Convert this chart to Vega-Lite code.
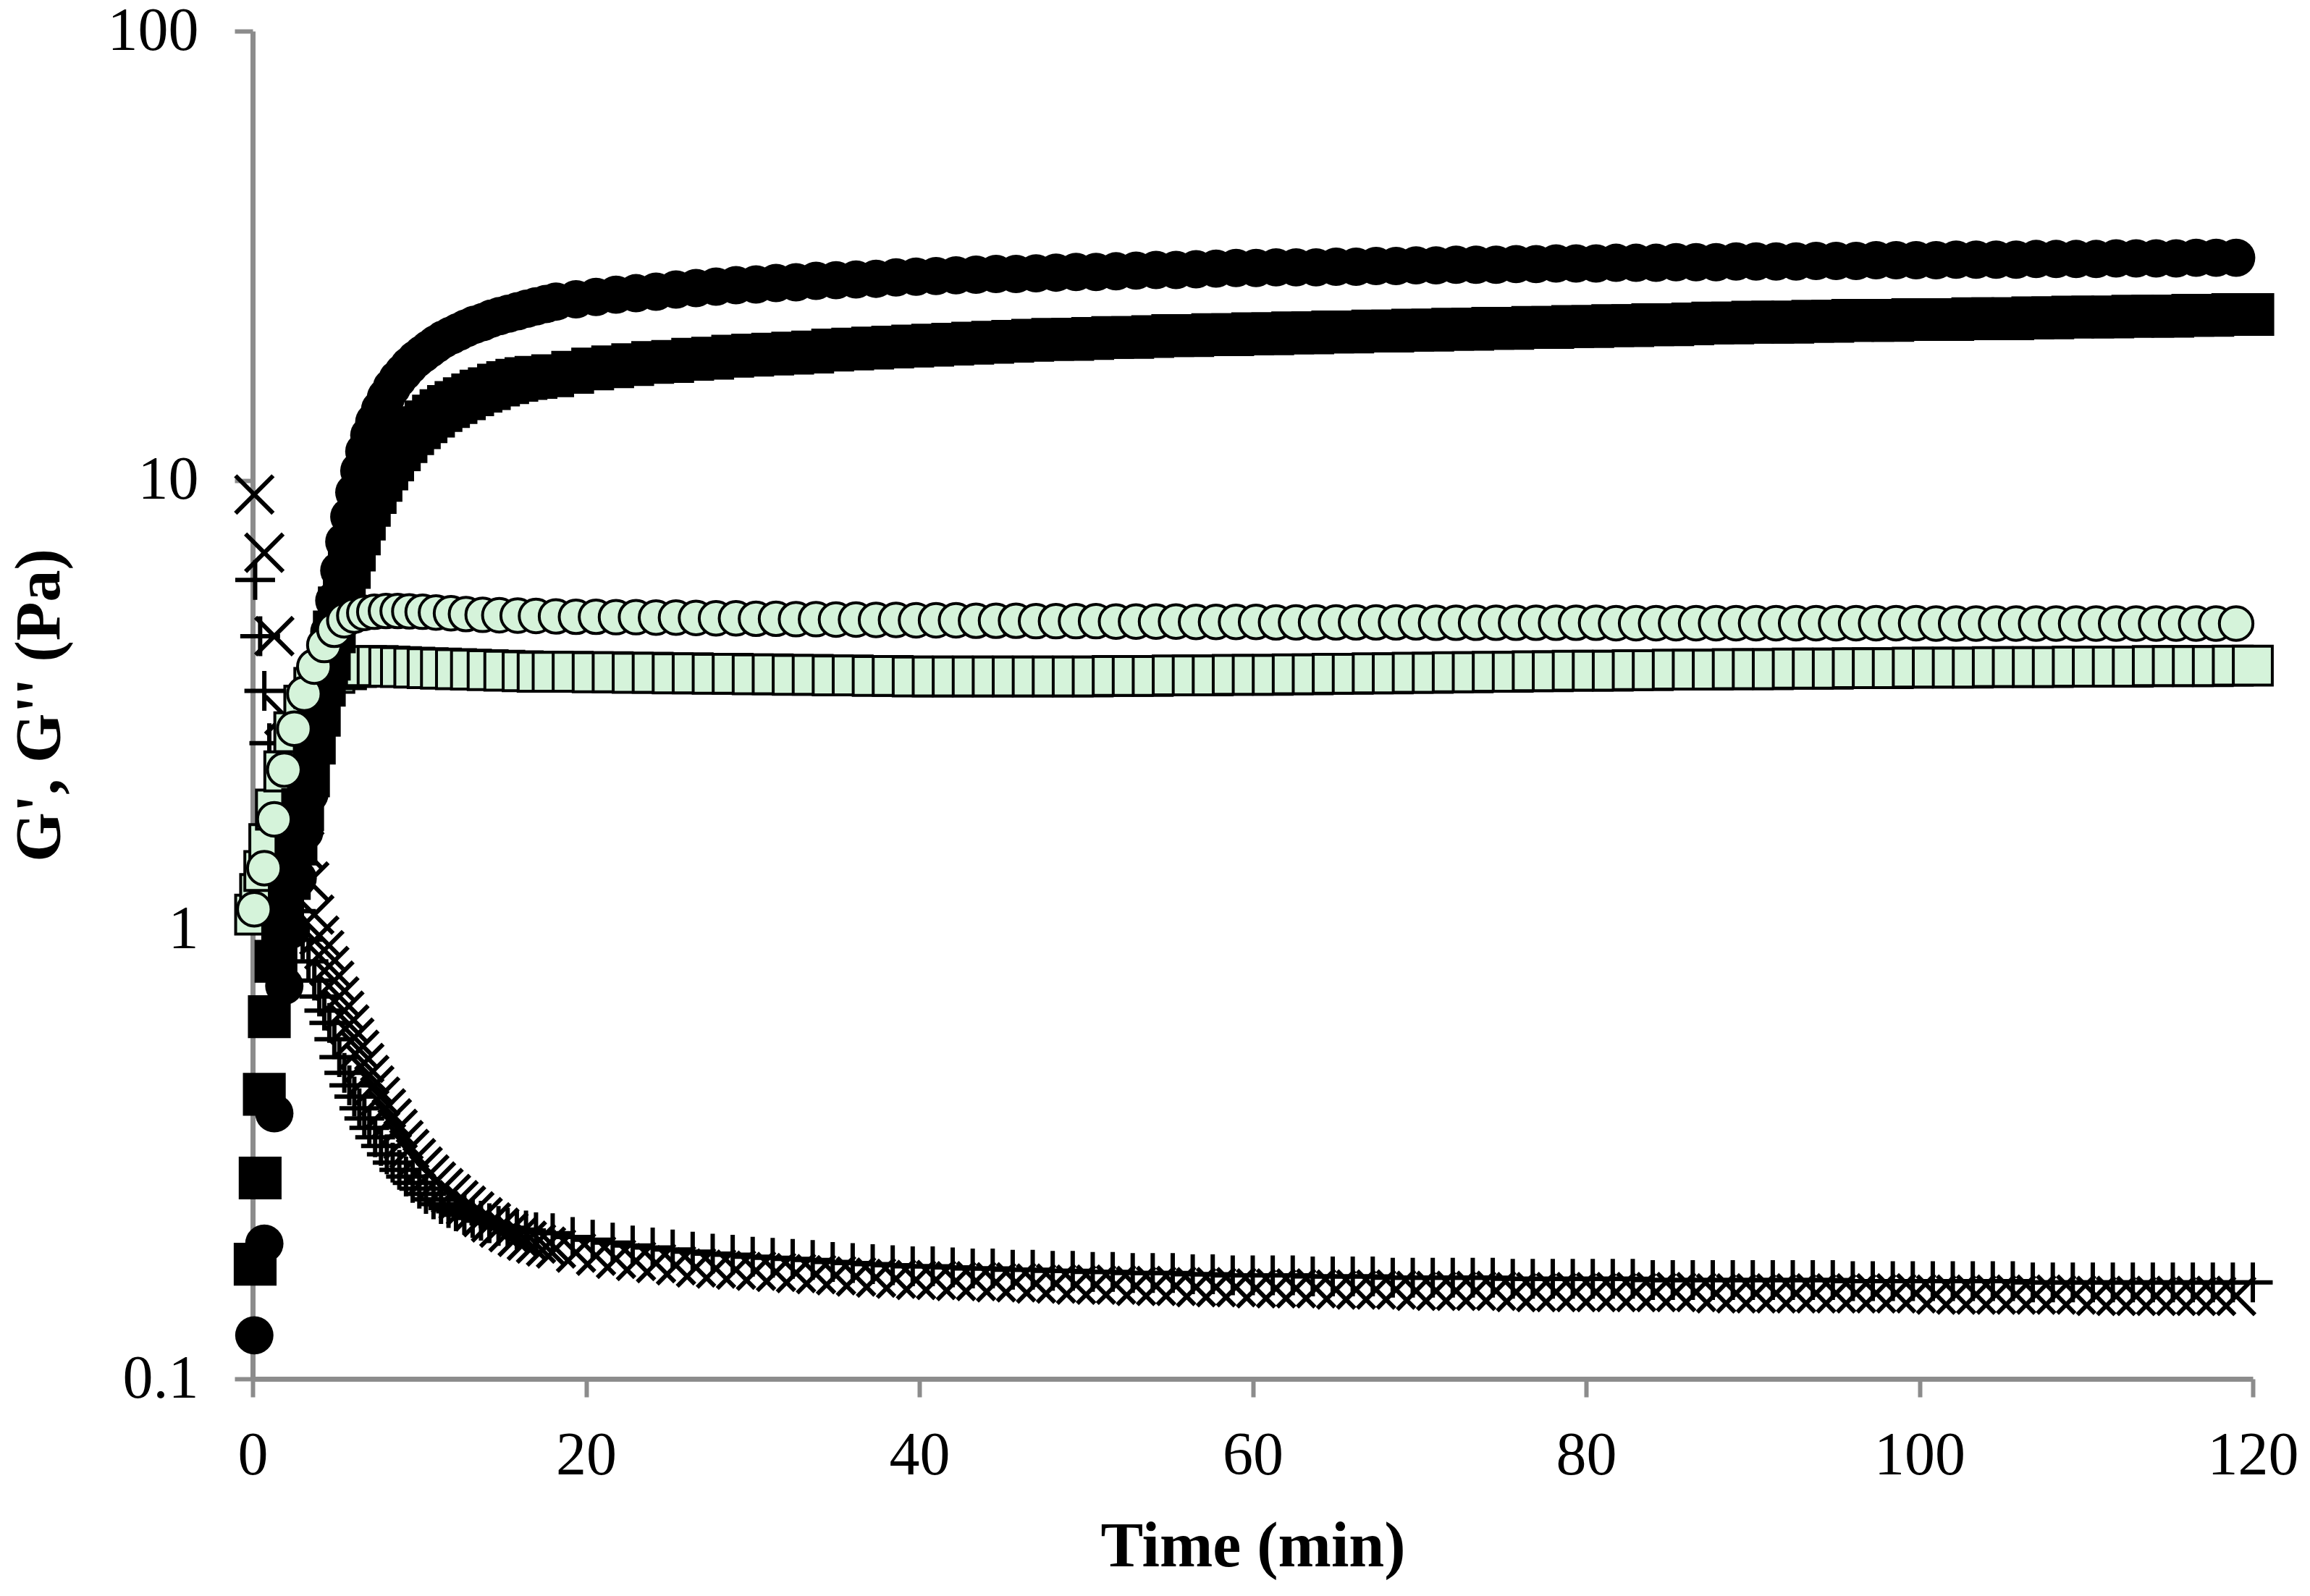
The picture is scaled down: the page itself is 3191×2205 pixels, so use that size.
{
"$schema":"https://vega.github.io/schema/vega-lite/v6.json",
"width":2763,"height":1862,
"autosize":{"type":"none"},
"padding":{"left":349,"top":43,"right":79,"bottom":300},
"background":"white",
"config":{"view":{"stroke":null},"font":"Liberation Serif"},
"datasets":{
"A":[{"t":0.1,"v":0.125},{"t":0.7,"v":0.2},{"t":1.3,"v":0.39},{"t":1.9,"v":0.75},{"t":2.3,"v":1.0},{"t":2.7,"v":1.3},{"t":3.1,"v":1.65},{"t":3.4,"v":2.0},{"t":3.7,"v":2.5},{"t":4.0,"v":3.1},{"t":4.3,"v":3.8},{"t":4.6,"v":4.6},{"t":4.9,"v":5.4},{"t":5.2,"v":6.3},{"t":5.5,"v":7.3},{"t":5.8,"v":8.3},{"t":6.1,"v":9.4},{"t":6.4,"v":10.5},{"t":6.7,"v":11.6},{"t":7.0,"v":12.6},{"t":7.3,"v":13.5},{"t":7.65,"v":14.4},{"t":8.0,"v":15.3},{"t":8.35,"v":16.1},{"t":8.7,"v":16.8},{"t":9.05,"v":17.4},{"t":9.4,"v":18.0},{"t":9.8,"v":18.6},{"t":10.2,"v":19.1},{"t":10.6,"v":19.6},{"t":11.0,"v":20.1},{"t":11.45,"v":20.6},{"t":11.9,"v":21.0},{"t":12.35,"v":21.4},{"t":12.8,"v":21.8},{"t":13.3,"v":22.2},{"t":13.8,"v":22.5},{"t":14.3,"v":22.9},{"t":14.8,"v":23.2},{"t":15.35,"v":23.5},{"t":15.9,"v":23.8},{"t":16.45,"v":24.1},{"t":17.0,"v":24.4},{"t":17.6,"v":24.7},
{"t":18.2,"v":25.0},{"t":19.4,"v":25.3},{"t":20.6,"v":25.6},{"t":21.8,"v":25.9},{"t":23.0,"v":26.1},{"t":24.2,"v":26.3},{"t":25.4,"v":26.6},{"t":26.6,"v":26.8},{"t":27.8,"v":27.0},{"t":29.0,"v":27.2},{"t":30.2,"v":27.3},{"t":31.4,"v":27.5},{"t":32.6,"v":27.6},{"t":33.8,"v":27.8},{"t":35.0,"v":27.9},{"t":36.2,"v":28.0},{"t":37.4,"v":28.1},{"t":38.6,"v":28.3},{"t":39.8,"v":28.4},{"t":41.0,"v":28.5},{"t":42.2,"v":28.6},{"t":43.4,"v":28.7},{"t":44.6,"v":28.8},{"t":45.8,"v":28.8},{"t":47.0,"v":28.9},{"t":48.2,"v":29.0},{"t":49.4,"v":29.1},{"t":50.6,"v":29.1},{"t":51.8,"v":29.2},{"t":53.0,"v":29.3},{"t":54.2,"v":29.4},{"t":55.4,"v":29.4},{"t":56.6,"v":29.5},{"t":57.8,"v":29.6},{"t":59.0,"v":29.7},{"t":60.2,"v":29.7},{"t":61.4,"v":29.8},{"t":62.6,"v":29.8},{"t":63.8,"v":29.8},{"t":65.0,"v":29.9},{"t":66.2,"v":29.9},{"t":67.4,"v":30.0},{"t":68.6,"v":30.0},{"t":69.8,"v":30.1},{"t":71.0,"v":30.1},{"t":72.2,"v":30.2},{"t":73.4,"v":30.2},{"t":74.6,"v":30.2},{"t":75.8,"v":30.3},{"t":77.0,"v":30.3},{"t":78.2,"v":30.4},{"t":79.4,"v":30.4},{"t":80.6,"v":30.4},{"t":81.8,"v":30.5},{"t":83.0,"v":30.5},{"t":84.2,"v":30.5},{"t":85.4,"v":30.6},{"t":86.6,"v":30.6},{"t":87.8,"v":30.6},{"t":89.0,"v":30.7},{"t":90.2,"v":30.7},{"t":91.4,"v":30.7},{"t":92.6,"v":30.7},{"t":93.8,"v":30.8},{"t":95.0,"v":30.8},{"t":96.2,"v":30.8},{"t":97.4,"v":30.9},{"t":98.6,"v":30.9},{"t":99.8,"v":30.9},{"t":101.0,"v":30.9},{"t":102.2,"v":31.0},{"t":103.4,"v":31.0},{"t":104.6,"v":31.0},{"t":105.8,"v":31.0},{"t":107.0,"v":31.1},{"t":108.2,"v":31.1},{"t":109.4,"v":31.1},{"t":110.6,"v":31.1},{"t":111.8,"v":31.2},{"t":113.0,"v":31.2},{"t":114.2,"v":31.2},{"t":115.4,"v":31.2},{"t":116.6,"v":31.3},{"t":117.8,"v":31.3},{"t":119.0,"v":31.3}],
"C":[{"t":0.1,"v":1.11},{"t":0.7,"v":1.37},{"t":1.3,"v":1.76},{"t":1.9,"v":2.27},{"t":2.5,"v":2.8},{"t":3.1,"v":3.35},{"t":3.7,"v":3.85},{"t":4.3,"v":4.3},{"t":4.9,"v":4.65},{"t":5.5,"v":4.88},{"t":6.1,"v":5.0},{"t":6.7,"v":5.07},{"t":7.3,"v":5.1},{"t":8.0,"v":5.12},{"t":8.7,"v":5.12},{"t":9.4,"v":5.11},{"t":10.2,"v":5.1},{"t":11.0,"v":5.08},{"t":11.9,"v":5.06},{"t":12.8,"v":5.04},{"t":13.8,"v":5.02},{"t":14.8,"v":5.01},{"t":15.9,"v":5.0},{"t":17.0,"v":4.99},
{"t":18.2,"v":4.98},{"t":19.4,"v":4.97},{"t":20.6,"v":4.97},{"t":21.8,"v":4.96},{"t":23.0,"v":4.96},{"t":24.2,"v":4.95},{"t":25.4,"v":4.95},{"t":26.6,"v":4.94},{"t":27.8,"v":4.93},{"t":29.0,"v":4.93},{"t":30.2,"v":4.92},{"t":31.4,"v":4.92},{"t":32.6,"v":4.91},{"t":33.8,"v":4.91},{"t":35.0,"v":4.9},{"t":36.2,"v":4.9},{"t":37.4,"v":4.89},{"t":38.6,"v":4.89},{"t":39.8,"v":4.88},{"t":41.0,"v":4.88},{"t":42.2,"v":4.88},{"t":43.4,"v":4.87},{"t":44.6,"v":4.87},{"t":45.8,"v":4.87},{"t":47.0,"v":4.86},{"t":48.2,"v":4.86},{"t":49.4,"v":4.86},{"t":50.6,"v":4.86},{"t":51.8,"v":4.85},{"t":53.0,"v":4.85},{"t":54.2,"v":4.85},{"t":55.4,"v":4.85},{"t":56.6,"v":4.84},{"t":57.8,"v":4.84},{"t":59.0,"v":4.84},{"t":60.2,"v":4.84},{"t":61.4,"v":4.83},{"t":62.6,"v":4.83},{"t":63.8,"v":4.83},{"t":65.0,"v":4.83},{"t":66.2,"v":4.83},{"t":67.4,"v":4.83},{"t":68.6,"v":4.83},{"t":69.8,"v":4.83},{"t":71.0,"v":4.82},{"t":72.2,"v":4.82},{"t":73.4,"v":4.82},{"t":74.6,"v":4.82},{"t":75.8,"v":4.82},{"t":77.0,"v":4.82},{"t":78.2,"v":4.82},{"t":79.4,"v":4.82},{"t":80.6,"v":4.82},{"t":81.8,"v":4.81},{"t":83.0,"v":4.81},{"t":84.2,"v":4.81},{"t":85.4,"v":4.81},{"t":86.6,"v":4.81},{"t":87.8,"v":4.81},{"t":89.0,"v":4.81},{"t":90.2,"v":4.81},{"t":91.4,"v":4.81},{"t":92.6,"v":4.81},{"t":93.8,"v":4.81},{"t":95.0,"v":4.81},{"t":96.2,"v":4.81},{"t":97.4,"v":4.81},{"t":98.6,"v":4.81},{"t":99.8,"v":4.81},{"t":101.0,"v":4.8},{"t":102.2,"v":4.8},{"t":103.4,"v":4.8},{"t":104.6,"v":4.8},{"t":105.8,"v":4.8},{"t":107.0,"v":4.8},{"t":108.2,"v":4.8},{"t":109.4,"v":4.8},{"t":110.6,"v":4.8},{"t":111.8,"v":4.8},{"t":113.0,"v":4.8},{"t":114.2,"v":4.8},{"t":115.4,"v":4.8},{"t":116.6,"v":4.8},{"t":117.8,"v":4.8},{"t":119.0,"v":4.8}],
"E":[{"t":0.1,"v":9.3},{"t":0.7,"v":6.9},{"t":1.3,"v":4.5},{"t":1.9,"v":3.0},{"t":2.5,"v":2.1},{"t":2.8,"v":1.8},{"t":3.1,"v":1.5},{"t":3.4,"v":1.28},{"t":3.7,"v":1.08},{"t":4.0,"v":0.97},{"t":4.3,"v":0.9},{"t":4.6,"v":0.83},{"t":4.9,"v":0.77},{"t":5.2,"v":0.71},{"t":5.5,"v":0.66},{"t":5.8,"v":0.615},{"t":6.1,"v":0.575},{"t":6.4,"v":0.54},{"t":6.7,"v":0.505},{"t":7.0,"v":0.475},{"t":7.3,"v":0.45},{"t":7.65,"v":0.425},{"t":8.0,"v":0.4},{"t":8.35,"v":0.38},{"t":8.7,"v":0.36},{"t":9.05,"v":0.34},{"t":9.4,"v":0.325},{"t":9.8,"v":0.31},{"t":10.2,"v":0.297},{"t":10.6,"v":0.285},{"t":11.0,"v":0.275},{"t":11.45,"v":0.266},{"t":11.9,"v":0.258},{"t":12.35,"v":0.25},{"t":12.8,"v":0.243},{"t":13.3,"v":0.236},{"t":13.8,"v":0.229},{"t":14.3,"v":0.223},{"t":14.8,"v":0.217},{"t":15.35,"v":0.212},{"t":15.9,"v":0.207},{"t":16.45,"v":0.203},{"t":17.0,"v":0.2},{"t":17.6,"v":0.197},
{"t":18.2,"v":0.195},{"t":19.4,"v":0.191},{"t":20.6,"v":0.188},{"t":21.8,"v":0.185},{"t":23.0,"v":0.183},{"t":24.2,"v":0.181},{"t":25.4,"v":0.179},{"t":26.6,"v":0.177},{"t":27.8,"v":0.176},{"t":29.0,"v":0.175},{"t":30.2,"v":0.174},{"t":31.4,"v":0.173},{"t":32.6,"v":0.172},{"t":33.8,"v":0.171},{"t":35.0,"v":0.17},{"t":36.2,"v":0.169},{"t":37.4,"v":0.168},{"t":38.6,"v":0.167},{"t":39.8,"v":0.166},{"t":41.0,"v":0.166},{"t":42.2,"v":0.165},{"t":43.4,"v":0.165},{"t":44.6,"v":0.164},{"t":45.8,"v":0.164},{"t":47.0,"v":0.163},{"t":48.2,"v":0.163},{"t":49.4,"v":0.162},{"t":50.6,"v":0.162},{"t":51.8,"v":0.162},{"t":53.0,"v":0.161},{"t":54.2,"v":0.161},{"t":55.4,"v":0.161},{"t":56.6,"v":0.16},{"t":57.8,"v":0.16},{"t":59.0,"v":0.16},{"t":60.2,"v":0.159},{"t":61.4,"v":0.159},{"t":62.6,"v":0.159},{"t":63.8,"v":0.159},{"t":65.0,"v":0.158},{"t":66.2,"v":0.158},{"t":67.4,"v":0.158},{"t":68.6,"v":0.158},{"t":69.8,"v":0.157},{"t":71.0,"v":0.157},{"t":72.2,"v":0.157},{"t":73.4,"v":0.157},{"t":74.6,"v":0.157},{"t":75.8,"v":0.156},{"t":77.0,"v":0.156},{"t":78.2,"v":0.156},{"t":79.4,"v":0.156},{"t":80.6,"v":0.156},{"t":81.8,"v":0.156},{"t":83.0,"v":0.156},{"t":84.2,"v":0.156},{"t":85.4,"v":0.156},{"t":86.6,"v":0.156},{"t":87.8,"v":0.155},{"t":89.0,"v":0.155},{"t":90.2,"v":0.155},{"t":91.4,"v":0.155},{"t":92.6,"v":0.155},{"t":93.8,"v":0.155},{"t":95.0,"v":0.155},{"t":96.2,"v":0.155},{"t":97.4,"v":0.155},{"t":98.6,"v":0.155},{"t":99.8,"v":0.155},{"t":101.0,"v":0.154},{"t":102.2,"v":0.154},{"t":103.4,"v":0.154},{"t":104.6,"v":0.154},{"t":105.8,"v":0.154},{"t":107.0,"v":0.154},{"t":108.2,"v":0.154},{"t":109.4,"v":0.154},{"t":110.6,"v":0.153},{"t":111.8,"v":0.153},{"t":113.0,"v":0.153},{"t":114.2,"v":0.153},{"t":115.4,"v":0.153},{"t":116.6,"v":0.153},{"t":117.8,"v":0.153},{"t":119.0,"v":0.153}],
"B":[{"t":0.15,"v":0.18},{"t":0.45,"v":0.28},{"t":0.7,"v":0.43},{"t":1.0,"v":0.64},{"t":1.4,"v":0.85},{"t":1.8,"v":1.05},{"t":2.2,"v":1.3},{"t":2.6,"v":1.55},{"t":3.0,"v":1.85},{"t":3.35,"v":2.2},{"t":3.7,"v":2.6},{"t":4.0,"v":3.0},{"t":4.3,"v":3.5},{"t":4.6,"v":4.0},{"t":4.9,"v":4.6},{"t":5.2,"v":5.2},{"t":5.5,"v":5.8},{"t":5.8,"v":6.4},{"t":6.1,"v":7.0},{"t":6.4,"v":7.6},{"t":6.7,"v":8.2},{"t":7.0,"v":8.8},{"t":7.35,"v":9.4},{"t":7.7,"v":10.0},{"t":8.05,"v":10.6},{"t":8.4,"v":11.1},{"t":8.8,"v":11.7},{"t":9.2,"v":12.2},{"t":9.6,"v":12.7},{"t":10.0,"v":13.1},{"t":10.4,"v":13.5},{"t":10.85,"v":13.9},{"t":11.3,"v":14.3},{"t":11.75,"v":14.6},{"t":12.2,"v":14.9},{"t":12.7,"v":15.2},{"t":13.2,"v":15.5},{"t":13.7,"v":15.8},{"t":14.2,"v":16.0},{"t":14.75,"v":16.3},{"t":15.3,"v":16.5},{"t":15.85,"v":16.7},{"t":16.4,"v":16.85},{"t":17.0,"v":16.95},
{"t":18.0,"v":17.1},{"t":19.2,"v":17.4},{"t":20.4,"v":17.7},{"t":21.6,"v":17.9},{"t":22.8,"v":18.1},{"t":24.0,"v":18.3},{"t":25.2,"v":18.4},{"t":26.4,"v":18.6},{"t":27.6,"v":18.7},{"t":28.8,"v":18.9},{"t":30.0,"v":19.0},{"t":31.2,"v":19.1},{"t":32.4,"v":19.2},{"t":33.6,"v":19.3},{"t":34.8,"v":19.5},{"t":36.0,"v":19.6},{"t":37.2,"v":19.7},{"t":38.4,"v":19.8},{"t":39.6,"v":19.9},{"t":40.8,"v":20.0},{"t":42.0,"v":20.1},{"t":43.2,"v":20.2},{"t":44.4,"v":20.3},{"t":45.6,"v":20.4},{"t":46.8,"v":20.5},{"t":48.0,"v":20.6},{"t":49.2,"v":20.6},{"t":50.4,"v":20.7},{"t":51.6,"v":20.8},{"t":52.8,"v":20.8},{"t":54.0,"v":20.9},{"t":55.2,"v":21.0},{"t":56.4,"v":21.0},{"t":57.6,"v":21.1},{"t":58.8,"v":21.1},{"t":60.0,"v":21.2},{"t":61.2,"v":21.2},{"t":62.4,"v":21.3},{"t":63.6,"v":21.3},{"t":64.8,"v":21.4},{"t":66.0,"v":21.4},{"t":67.2,"v":21.5},{"t":68.4,"v":21.5},{"t":69.6,"v":21.6},{"t":70.8,"v":21.6},{"t":72.0,"v":21.7},{"t":73.2,"v":21.7},{"t":74.4,"v":21.8},{"t":75.6,"v":21.8},{"t":76.8,"v":21.9},{"t":78.0,"v":21.9},{"t":79.2,"v":22.0},{"t":80.4,"v":22.0},{"t":81.6,"v":22.1},{"t":82.8,"v":22.1},{"t":84.0,"v":22.2},{"t":85.2,"v":22.2},{"t":86.4,"v":22.3},{"t":87.6,"v":22.4},{"t":88.8,"v":22.4},{"t":90.0,"v":22.5},{"t":91.2,"v":22.5},{"t":92.4,"v":22.5},{"t":93.6,"v":22.6},{"t":94.8,"v":22.6},{"t":96.0,"v":22.7},{"t":97.2,"v":22.7},{"t":98.4,"v":22.7},{"t":99.6,"v":22.8},{"t":100.8,"v":22.8},{"t":102.0,"v":22.8},{"t":103.2,"v":22.9},{"t":104.4,"v":22.9},{"t":105.6,"v":22.9},{"t":106.8,"v":23.0},{"t":108.0,"v":23.0},{"t":109.2,"v":23.1},{"t":110.4,"v":23.1},{"t":111.6,"v":23.1},{"t":112.8,"v":23.2},{"t":114.0,"v":23.2},{"t":115.2,"v":23.2},{"t":116.4,"v":23.3},{"t":117.6,"v":23.3},{"t":118.8,"v":23.4},{"t":120.0,"v":23.4}],
"D":[{"t":0.15,"v":1.08},{"t":0.45,"v":1.2},{"t":0.7,"v":1.35},{"t":1.0,"v":1.55},{"t":1.4,"v":1.85},{"t":1.9,"v":2.25},{"t":2.5,"v":2.75},{"t":3.1,"v":3.15},{"t":3.7,"v":3.45},{"t":4.3,"v":3.62},{"t":4.9,"v":3.73},{"t":5.6,"v":3.8},{"t":6.2,"v":3.84},{"t":6.8,"v":3.86},{"t":7.5,"v":3.86},{"t":8.2,"v":3.85},{"t":8.9,"v":3.84},{"t":9.7,"v":3.83},{"t":10.5,"v":3.82},{"t":11.3,"v":3.81},{"t":12.2,"v":3.8},{"t":13.1,"v":3.79},{"t":14.1,"v":3.78},{"t":15.1,"v":3.77},{"t":16.2,"v":3.76},{"t":17.1,"v":3.75},
{"t":18.0,"v":3.75},{"t":19.2,"v":3.75},{"t":20.4,"v":3.74},{"t":21.6,"v":3.74},{"t":22.8,"v":3.73},{"t":24.0,"v":3.73},{"t":25.2,"v":3.72},{"t":26.4,"v":3.72},{"t":27.6,"v":3.71},{"t":28.8,"v":3.71},{"t":30.0,"v":3.7},{"t":31.2,"v":3.7},{"t":32.4,"v":3.69},{"t":33.6,"v":3.69},{"t":34.8,"v":3.68},{"t":36.0,"v":3.68},{"t":37.2,"v":3.67},{"t":38.4,"v":3.67},{"t":39.6,"v":3.66},{"t":40.8,"v":3.66},{"t":42.0,"v":3.66},{"t":43.2,"v":3.66},{"t":44.4,"v":3.66},{"t":45.6,"v":3.66},{"t":46.8,"v":3.66},{"t":48.0,"v":3.66},{"t":49.2,"v":3.66},{"t":50.4,"v":3.66},{"t":51.6,"v":3.67},{"t":52.8,"v":3.67},{"t":54.0,"v":3.67},{"t":55.2,"v":3.68},{"t":56.4,"v":3.68},{"t":57.6,"v":3.68},{"t":58.8,"v":3.69},{"t":60.0,"v":3.69},{"t":61.2,"v":3.69},{"t":62.4,"v":3.7},{"t":63.6,"v":3.7},{"t":64.8,"v":3.71},{"t":66.0,"v":3.71},{"t":67.2,"v":3.72},{"t":68.4,"v":3.72},{"t":69.6,"v":3.73},{"t":70.8,"v":3.73},{"t":72.0,"v":3.74},{"t":73.2,"v":3.74},{"t":74.4,"v":3.75},{"t":75.6,"v":3.75},{"t":76.8,"v":3.76},{"t":78.0,"v":3.76},{"t":79.2,"v":3.77},{"t":80.4,"v":3.77},{"t":81.6,"v":3.77},{"t":82.8,"v":3.78},{"t":84.0,"v":3.78},{"t":85.2,"v":3.79},{"t":86.4,"v":3.79},{"t":87.6,"v":3.79},{"t":88.8,"v":3.8},{"t":90.0,"v":3.8},{"t":91.2,"v":3.8},{"t":92.4,"v":3.81},{"t":93.6,"v":3.81},{"t":94.8,"v":3.81},{"t":96.0,"v":3.82},{"t":97.2,"v":3.82},{"t":98.4,"v":3.82},{"t":99.6,"v":3.83},{"t":100.8,"v":3.83},{"t":102.0,"v":3.83},{"t":103.2,"v":3.83},{"t":104.4,"v":3.84},{"t":105.6,"v":3.84},{"t":106.8,"v":3.84},{"t":108.0,"v":3.84},{"t":109.2,"v":3.85},{"t":110.4,"v":3.85},{"t":111.6,"v":3.85},{"t":112.8,"v":3.85},{"t":114.0,"v":3.86},{"t":115.2,"v":3.86},{"t":116.4,"v":3.86},{"t":117.6,"v":3.86},{"t":118.8,"v":3.87},{"t":120.0,"v":3.87}],
"F":[{"t":0.15,"v":6.0},{"t":0.45,"v":4.5},{"t":0.7,"v":3.4},{"t":1.0,"v":2.6},{"t":1.4,"v":2.0},{"t":1.8,"v":1.6},{"t":2.2,"v":1.3},{"t":2.6,"v":1.1},{"t":3.0,"v":0.95},{"t":3.35,"v":0.85},{"t":3.7,"v":0.77},{"t":4.0,"v":0.71},{"t":4.3,"v":0.66},{"t":4.6,"v":0.62},{"t":4.9,"v":0.57},{"t":5.2,"v":0.52},{"t":5.5,"v":0.48},{"t":5.8,"v":0.45},{"t":6.1,"v":0.425},{"t":6.4,"v":0.4},{"t":6.7,"v":0.38},{"t":7.0,"v":0.362},{"t":7.35,"v":0.345},{"t":7.7,"v":0.33},{"t":8.05,"v":0.316},{"t":8.4,"v":0.303},{"t":8.8,"v":0.292},{"t":9.2,"v":0.282},{"t":9.6,"v":0.273},{"t":10.0,"v":0.265},{"t":10.4,"v":0.258},{"t":10.85,"v":0.251},{"t":11.3,"v":0.245},{"t":11.75,"v":0.24},{"t":12.2,"v":0.236},{"t":12.7,"v":0.232},{"t":13.2,"v":0.228},{"t":13.7,"v":0.225},{"t":14.2,"v":0.222},{"t":14.75,"v":0.219},{"t":15.3,"v":0.217},{"t":15.85,"v":0.215},{"t":16.4,"v":0.214},{"t":17.0,"v":0.212},
{"t":18.0,"v":0.211},{"t":19.2,"v":0.207},{"t":20.4,"v":0.204},{"t":21.6,"v":0.201},{"t":22.8,"v":0.198},{"t":24.0,"v":0.196},{"t":25.2,"v":0.194},{"t":26.4,"v":0.192},{"t":27.6,"v":0.19},{"t":28.8,"v":0.189},{"t":30.0,"v":0.187},{"t":31.2,"v":0.186},{"t":32.4,"v":0.185},{"t":33.6,"v":0.184},{"t":34.8,"v":0.182},{"t":36.0,"v":0.181},{"t":37.2,"v":0.18},{"t":38.4,"v":0.179},{"t":39.6,"v":0.178},{"t":40.8,"v":0.178},{"t":42.0,"v":0.177},{"t":43.2,"v":0.176},{"t":44.4,"v":0.176},{"t":45.6,"v":0.175},{"t":46.8,"v":0.175},{"t":48.0,"v":0.174},{"t":49.2,"v":0.174},{"t":50.4,"v":0.173},{"t":51.6,"v":0.173},{"t":52.8,"v":0.172},{"t":54.0,"v":0.172},{"t":55.2,"v":0.172},{"t":56.4,"v":0.171},{"t":57.6,"v":0.171},{"t":58.8,"v":0.17},{"t":60.0,"v":0.17},{"t":61.2,"v":0.17},{"t":62.4,"v":0.17},{"t":63.6,"v":0.169},{"t":64.8,"v":0.169},{"t":66.0,"v":0.169},{"t":67.2,"v":0.169},{"t":68.4,"v":0.168},{"t":69.6,"v":0.168},{"t":70.8,"v":0.168},{"t":72.0,"v":0.168},{"t":73.2,"v":0.168},{"t":74.4,"v":0.168},{"t":75.6,"v":0.167},{"t":76.8,"v":0.167},{"t":78.0,"v":0.167},{"t":79.2,"v":0.167},{"t":80.4,"v":0.167},{"t":81.6,"v":0.167},{"t":82.8,"v":0.167},{"t":84.0,"v":0.166},{"t":85.2,"v":0.166},{"t":86.4,"v":0.166},{"t":87.6,"v":0.166},{"t":88.8,"v":0.166},{"t":90.0,"v":0.166},{"t":91.2,"v":0.166},{"t":92.4,"v":0.166},{"t":93.6,"v":0.166},{"t":94.8,"v":0.166},{"t":96.0,"v":0.165},{"t":97.2,"v":0.165},{"t":98.4,"v":0.165},{"t":99.6,"v":0.165},{"t":100.8,"v":0.165},{"t":102.0,"v":0.165},{"t":103.2,"v":0.165},{"t":104.4,"v":0.165},{"t":105.6,"v":0.165},{"t":106.8,"v":0.164},{"t":108.0,"v":0.164},{"t":109.2,"v":0.164},{"t":110.4,"v":0.164},{"t":111.6,"v":0.164},{"t":112.8,"v":0.164},{"t":114.0,"v":0.164},{"t":115.2,"v":0.164},{"t":116.4,"v":0.164},{"t":117.6,"v":0.164},{"t":118.8,"v":0.164},{"t":120.0,"v":0.164}]
},
"encoding":{
"x":{"field":"t","type":"quantitative","scale":{"domain":[0,120],"nice":false,"zero":false},
"axis":{"title":"Time (min)","values":[0,20,40,60,80,100,120],"format":"d","grid":false,
"domainColor":"#8c8c8c","domainWidth":7,"tickColor":"#8c8c8c","tickWidth":6,"tickSize":25,
"labelFont":"Liberation Serif","labelFontSize":84,"labelColor":"black","labelPadding":40,"labelFlush":false,"labelOverlap":false,
"titleFont":"Liberation Serif","titleFontSize":88,"titleFontWeight":"bold","titleColor":"black","titlePadding":40}},
"y":{"field":"v","type":"quantitative","scale":{"type":"log","domain":[0.1,100],"nice":false},
"axis":{"title":"G', G'' (Pa)","values":[0.1,1,10,100],"format":"~g","grid":false,
"domainColor":"#8c8c8c","domainWidth":7,"tickColor":"#8c8c8c","tickWidth":6,"tickSize":25,
"labelFont":"Liberation Serif","labelFontSize":84,"labelColor":"black","labelPadding":50,"labelFlush":false,"labelOverlap":false,
"titleFont":"Liberation Serif","titleFontSize":88,"titleFontWeight":"bold","titleColor":"black","titlePadding":50}}
},
"layer":[
{"data":{"name":"E"},"mark":{"type":"point","shape":"M-1,-1L1,1M-1,1L1,-1","filled":false,"stroke":"black","strokeWidth":6,"size":2700,"opacity":1}},
{"data":{"name":"F"},"mark":{"type":"point","shape":"M-1,0L1,0M0,-1L0,1","filled":false,"stroke":"black","strokeWidth":6,"size":3025,"opacity":1}},
{"data":{"name":"D"},"mark":{"type":"point","shape":"square","filled":true,"fill":"#d5f3da","stroke":"black","strokeWidth":4,"size":2900,"opacity":1}},
{"data":{"name":"A"},"mark":{"type":"point","shape":"circle","filled":true,"fill":"black","stroke":null,"size":2800,"opacity":1}},
{"data":{"name":"B"},"mark":{"type":"point","shape":"square","filled":true,"fill":"black","stroke":null,"size":3500,"opacity":1}},
{"data":{"name":"C"},"mark":{"type":"point","shape":"circle","filled":true,"fill":"#d5f3da","stroke":"black","strokeWidth":4,"size":2150,"opacity":1}}
]
}
